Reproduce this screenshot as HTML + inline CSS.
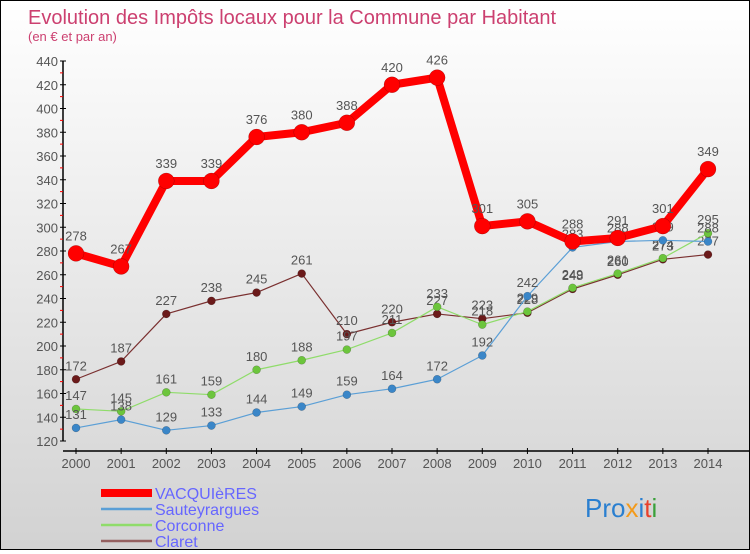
<!DOCTYPE html>
<html><head><meta charset="utf-8"><style>
body{margin:0;width:750px;height:550px;overflow:hidden;font-family:"Liberation Sans",sans-serif}
#c{position:absolute;left:0;top:0;width:748px;height:548px;border:1px solid #000;background:linear-gradient(#fff,#d2d2d2)}
text{font-family:"Liberation Sans",sans-serif}
</style></head><body>
<div id="c">
<svg width="748" height="548" id="svg">
<text x="27" y="23" font-size="20" fill="#cc4070">Evolution des Impôts locaux pour la Commune par Habitant</text>
<text x="27" y="40" font-size="13" fill="#cc4070">(en € et par an)</text>
<g id="axes"></g><g id="series"></g>
<g font-size="16" fill="#6666ff">
<line x1="100" y1="492" x2="151" y2="492" stroke="#f00" stroke-width="8"/>
<text x="154" y="498">VACQUIèRES</text>
<line x1="100" y1="508" x2="151" y2="508" stroke="#5b9fd6" stroke-width="2.5"/>
<text x="154" y="514">Sauteyrargues</text>
<line x1="100" y1="524" x2="151" y2="524" stroke="#8fdc6a" stroke-width="2.5"/>
<text x="154" y="530">Corconne</text>
<line x1="100" y1="540" x2="151" y2="540" stroke="#946060" stroke-width="2.5"/>
<text x="154" y="546">Claret</text>
</g>
<text x="584" y="516" font-size="26"><tspan fill="#2a7fd0">Pro</tspan><tspan fill="#f39a1a">x</tspan><tspan fill="#2a7fd0">i</tspan><tspan fill="#e8402a">t</tspan><tspan fill="#3aa03a">i</tspan></text>
</svg></div>
<script>
const years=[2000,2001,2002,2003,2004,2005,2006,2007,2008,2009,2010,2011,2012,2013,2014];
const yTicks=[120,140,160,180,200,220,240,260,280,300,320,340,360,380,400,420,440];
const vacq=[278,267,339,339,376,380,388,420,426,301,305,288,291,301,349];
const saut=[131,138,129,133,144,149,159,164,172,192,242,283,288,289,288];
const corc=[147,145,161,159,180,188,197,211,233,218,229,249,261,274,295];
const clar=[172,187,227,238,245,261,210,220,227,223,228,248,260,273,277];
const NS="http://www.w3.org/2000/svg";
const xs=i=>75+i*(632/14);
const ys=v=>440-(v-120)*380/320;
function mk(t,a,p){const e=document.createElementNS(NS,t);for(const k in a)e.setAttribute(k,a[k]);p.appendChild(e);return e;}
const ax=document.getElementById('axes'),sg=document.getElementById('series');
const yl=mk('line',{x1:62,y1:60,x2:62,y2:440,stroke:'#000','stroke-width':1.5},ax);


yTicks.forEach((v,i)=>{
 mk('line',{x1:59,y1:ys(v),x2:65,y2:ys(v),stroke:'#000'},ax);
 if(i<yTicks.length-1)mk('line',{x1:59,y1:ys(v+10),x2:62,y2:ys(v+10),stroke:'#f00'},ax);
 const t=mk('text',{x:57,y:ys(v)+5,'text-anchor':'end','font-size':13,fill:'#555'},ax);
 t.textContent=v;
 
 
});
const xl=mk('line',{x1:62,y1:450,x2:748,y2:450,stroke:'#000','stroke-width':1.5},ax);


years.forEach((y,i)=>{
 mk('line',{x1:xs(i),y1:447,x2:xs(i),y2:453,stroke:'#000'},ax);
 const t=mk('text',{x:xs(i),y:467,'text-anchor':'middle','font-size':13,fill:'#555'},ax);
 t.textContent=y;
 
 
});
function series(vals,name,col,dot,w,r,fs){
 const g=mk('g',{},sg);
 
 
 const pl=mk('polyline',{points:vals.map((v,i)=>xs(i)+','+ys(v)).join(' '),fill:'none',stroke:col,'stroke-width':w,'stroke-linejoin':'round'},g);
 
 
 vals.forEach((v,i)=>{
  const c=mk('circle',{cx:xs(i),cy:ys(v),r:r,fill:dot,stroke:'rgba(0,0,0,0.3)','stroke-width':0.5},g);
  
  
  const t=mk('text',{x:xs(i),y:ys(v)-(r+5),'text-anchor':'middle','font-size':fs,fill:'#555'},g);
  t.textContent=v;
  
  
 });
}
series(clar,'claret','#7a3030','#6b1a1a',1.2,4,13);
series(corc,'corconne','#8fdc6a','#6cc53c',1.2,4,13);
series(saut,'sauteyrargues','#5b9fd6','#3a86c8',1.2,4,13);
series(vacq,'vacquieres','#f00','#f00',8,8,13);
</script>
</body></html>
